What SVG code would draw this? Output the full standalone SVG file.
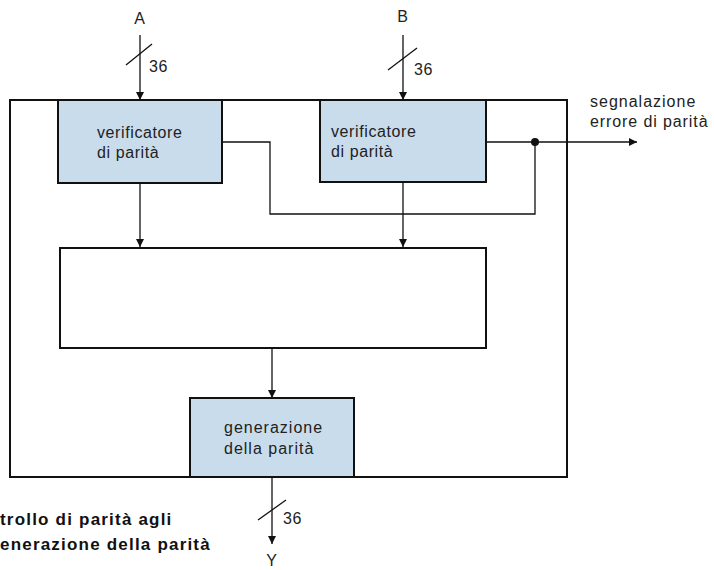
<svg xmlns="http://www.w3.org/2000/svg" width="714" height="570" viewBox="0 0 714 570">
<defs>
<marker id="ah" viewBox="0 0 10 10" refX="10" refY="5" markerWidth="8" markerHeight="14" markerUnits="userSpaceOnUse" orient="auto"><path d="M0,0 L10,5 L0,10 z" fill="#111"/></marker>
<marker id="ahw" viewBox="0 0 10 10" refX="10" refY="5" markerWidth="20" markerHeight="8" markerUnits="userSpaceOnUse" orient="auto"><path d="M0,0 L10,5 L0,10 z" fill="#111"/></marker>
</defs>
<style>
text{font-family:"Liberation Sans",Arial,sans-serif;font-size:16px;fill:#222;letter-spacing:0.6px}
.b{font-weight:bold;font-size:17px;fill:#111;letter-spacing:1.2px}
.box{fill:#c9dcec;stroke:#111;stroke-width:2}
.frame{fill:none;stroke:#111;stroke-width:2}
.ln{fill:none;stroke:#111;stroke-width:1.3}
.ar{fill:none;stroke:#111;stroke-width:1.3;marker-end:url(#ah)}
</style>
<rect width="714" height="570" fill="#fff"/>
<g id="frame"><rect class="frame" x="10" y="100" width="557" height="377"/></g>
<g id="connectors">
<line class="ar" x1="140" y1="35" x2="140" y2="100"/>
<line class="ln" x1="126" y1="65" x2="152" y2="44"/>
<line class="ar" x1="403" y1="35" x2="403" y2="100"/>
<line class="ln" x1="388" y1="70" x2="417" y2="48"/>
<line class="ar" x1="140" y1="183" x2="140" y2="247"/>
<line class="ar" x1="403" y1="182" x2="403" y2="247"/>
<line class="ar" x1="272" y1="348" x2="272" y2="398"/>
<polyline class="ln" points="222,142 270,142 270,214 535,214 535,142"/>
<line class="ln" x1="486" y1="142" x2="637" y2="142" marker-end="url(#ahw)"/>
<circle cx="535" cy="142" r="4" fill="#111"/>
<line class="ar" x1="272" y1="477" x2="272" y2="544"/>
<line class="ln" x1="258" y1="520" x2="286" y2="500"/>
</g>
<g id="boxA"><rect class="box" x="58" y="100" width="164" height="83"/><text x="97" y="138">verificatore</text><text x="97" y="158">di parità</text></g>
<g id="boxB"><rect class="box" x="320" y="100" width="166" height="82"/><text x="331" y="137">verificatore</text><text x="331" y="157">di parità</text></g>
<g id="mid"><rect class="frame" x="60" y="248" width="426" height="100"/></g>
<g id="gen"><rect class="box" x="190" y="398" width="164" height="79"/><text x="224" y="433" style="letter-spacing:1px">generazione</text><text x="224" y="454" style="letter-spacing:1px">della parità</text></g>
<g id="labels">
<text x="140" y="24" text-anchor="middle">A</text>
<text x="403" y="22" text-anchor="middle">B</text>
<text x="149" y="72">36</text>
<text x="414" y="75">36</text>
<text x="283" y="524">36</text>
<text x="272" y="566" text-anchor="middle">Y</text>
<text x="590" y="107" style="letter-spacing:1px">segnalazione</text>
<text x="590" y="127" style="letter-spacing:0.9px">errore di parità</text>
<text class="b" x="0" y="525">trollo di parità agli</text>
<text class="b" x="0" y="550">enerazione della parità</text>
</g>
</svg>
